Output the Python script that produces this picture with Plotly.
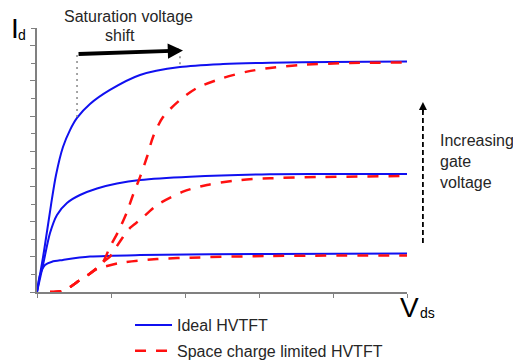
import plotly.graph_objects as go

# ---- data (Vds in grid units 0..5, Id in grid units 0..15) ----
ideal_top_x = [0, 0.095, 0.189, 0.257, 0.351, 0.446, 0.541, 0.716, 0.986, 1.392, 1.932, 2.514, 3.149, 3.959, 5.0]
ideal_top_y = [0, 2.33, 4.94, 6.65, 8.24, 9.20, 9.89, 10.68, 11.48, 12.33, 12.78, 12.95, 13.03, 13.07, 13.10]

ideal_mid_x = [0, 0.081, 0.176, 0.27, 0.405, 0.581, 0.811, 1.081, 1.392, 2.068, 3.149, 4.095, 5.0]
ideal_mid_y = [0, 1.53, 3.35, 4.38, 5.06, 5.51, 5.88, 6.16, 6.36, 6.55, 6.69, 6.70, 6.70]

ideal_low_x = [0, 0.041, 0.108, 0.203, 0.351, 0.716, 1.392, 3.149, 5.0]
ideal_low_y = [0, 0.97, 1.53, 1.72, 1.82, 2.01, 2.10, 2.16, 2.19]

scl_top_x = [0.176, 0.338, 0.446, 0.581, 0.689, 0.811, 0.892, 0.986, 1.095, 1.216, 1.297, 1.392,
             1.486, 1.568, 1.703, 1.932, 2.162, 2.514, 2.838, 3.149, 3.554, 4.230, 5.0]
scl_top_y = [0, 0.06, 0.28, 0.68, 0.97, 1.36, 1.70, 2.56, 3.41, 4.55, 5.51, 6.53,
             7.67, 8.81, 9.94, 10.91, 11.59, 12.16, 12.52, 12.73, 12.90, 13.01, 13.04]

scl_mid_x = [0.176, 0.338, 0.446, 0.581, 0.689, 0.811, 0.892, 0.986, 1.027, 1.162, 1.257, 1.392,
             1.622, 1.973, 2.297, 2.743, 3.149, 3.784, 5.0]
scl_mid_y = [0, 0.06, 0.28, 0.68, 0.97, 1.36, 1.70, 2.01, 2.27, 3.13, 3.64, 4.09,
             4.94, 5.70, 6.08, 6.36, 6.46, 6.53, 6.59]

scl_low_x = [0.176, 0.338, 0.446, 0.581, 0.689, 0.811, 0.892, 1.122, 1.622, 2.068, 3.149, 5.0]
scl_low_y = [0, 0.06, 0.28, 0.68, 0.97, 1.31, 1.42, 1.65, 1.87, 1.95, 2.05, 2.07]

legend_names = ["Ideal HVTFT", "Space charge limited HVTFT"]

FONT = "Liberation Sans, Arial, sans-serif"
TXT = "#262626"
BLUE = "#1010f0"
RED = "#ff1010"

fig = go.Figure()

ideal = [(ideal_top_x, ideal_top_y), (ideal_mid_x, ideal_mid_y), (ideal_low_x, ideal_low_y)]
scl = [(scl_top_x, scl_top_y), (scl_mid_x, scl_mid_y), (scl_low_x, scl_low_y)]

for i, (xs, ys) in enumerate(ideal):
    fig.add_trace(go.Scatter(x=xs, y=ys, mode="lines", name=legend_names[0],
                             legendgroup="ideal", showlegend=(i == 0),
                             line=dict(color=BLUE, width=2, shape="spline", smoothing=0.8)))
for i, (xs, ys) in enumerate(scl):
    fig.add_trace(go.Scatter(x=xs, y=ys, mode="lines", name=legend_names[1],
                             legendgroup="scl", showlegend=(i == 0),
                             line=dict(color=RED, width=2.5, dash="11px,10px", shape="spline", smoothing=0.8)))

# dotted guide lines
fig.add_shape(type="line", xref="x", yref="y", x0=0.541, x1=0.541, y0=13.47, y1=9.95,
              line=dict(color="#888888", width=1.5, dash="2px,4px"))
fig.add_shape(type="line", xref="x", yref="y", x0=1.932, x1=1.932, y0=13.40, y1=12.75,
              line=dict(color="#888888", width=1.5, dash="2px,4px"))

# vertical dashed arrow (increasing gate voltage)
fig.add_shape(type="line", xref="paper", yref="paper", x0=1.043, x1=1.043, y0=0.186, y1=0.70,
              line=dict(color="black", width=1.8, dash="5px,3px"))

annotations = [
    # horizontal arrow
    dict(x=1.973, y=13.72, ax=0.541, ay=13.52, xref="x", yref="y", axref="x", ayref="y",
         text="", showarrow=True, arrowhead=2, arrowwidth=3.8, arrowsize=0.8, arrowcolor="black"),
    # vertical arrow head
    dict(x=1.043, y=0.72, ax=0, ay=12, xref="paper", yref="paper",
         text="", showarrow=True, arrowhead=2, arrowwidth=1.6, arrowsize=1, arrowcolor="black"),
    dict(x=0.2486, y=1.0417, xref="paper", yref="paper", text="Saturation voltage", showarrow=False,
         font=dict(family=FONT, size=16, color=TXT), xanchor="center", yanchor="middle"),
    dict(x=0.2243, y=0.9697, xref="paper", yref="paper", text="shift", showarrow=False,
         font=dict(family=FONT, size=16, color=TXT), xanchor="center", yanchor="middle"),
    dict(x=1.0838, y=0.496, xref="paper", yref="paper", text="Increasing<br>gate<br>voltage",
         showarrow=False, align="left", font=dict(family=FONT, size=16, color=TXT),
         xanchor="left", yanchor="middle"),
    dict(x=-0.0608, y=1.0, xref="paper", yref="paper", text="I", showarrow=False,
         font=dict(family=FONT, size=28, color="black"), xanchor="center", yanchor="middle"),
    dict(x=-0.0392, y=0.975, xref="paper", yref="paper", text="d", showarrow=False,
         font=dict(family=FONT, size=14, color="black"), xanchor="center", yanchor="middle"),
    dict(x=1.0068, y=-0.0606, xref="paper", yref="paper", text="V", showarrow=False,
         font=dict(family=FONT, size=28, color="black"), xanchor="center", yanchor="middle"),
    dict(x=1.0554, y=-0.0795, xref="paper", yref="paper", text="ds", showarrow=False,
         font=dict(family=FONT, size=14, color="black"), xanchor="center", yanchor="middle"),
]

fig.update_layout(
    width=513, height=363,
    margin=dict(l=37, r=106, t=28, b=71, autoexpand=False),
    paper_bgcolor="white", plot_bgcolor="white",
    font=dict(family=FONT, size=16, color=TXT),
    annotations=annotations,
    showlegend=True,
    legend=dict(x=0.2514, y=-0.0606, xanchor="left", yanchor="top",
                bgcolor="rgba(0,0,0,0)", borderwidth=0, itemwidth=37,
                traceorder="grouped", tracegroupgap=2,
                font=dict(family=FONT, size=16, color=TXT)),
)
fig.update_xaxes(range=[0, 5], showgrid=False, zeroline=False, showline=True,
                 linecolor="#808080", linewidth=1.5, ticks="outside", tickvals=[0, 1, 2, 3, 4, 5],
                 ticklen=4, tickwidth=1.2, tickcolor="#808080", showticklabels=False, fixedrange=True)
fig.update_yaxes(range=[0, 15], showgrid=False, zeroline=False, showline=True,
                 linecolor="#808080", linewidth=1.5, ticks="outside", tick0=0, dtick=2,
                 ticklen=5, tickwidth=1.2, tickcolor="#808080", showticklabels=False,
                 minor=dict(ticks="outside", dtick=1, ticklen=4, tickwidth=1.2, tickcolor="#808080"),
                 fixedrange=True)

fig.write_html("out.html")
